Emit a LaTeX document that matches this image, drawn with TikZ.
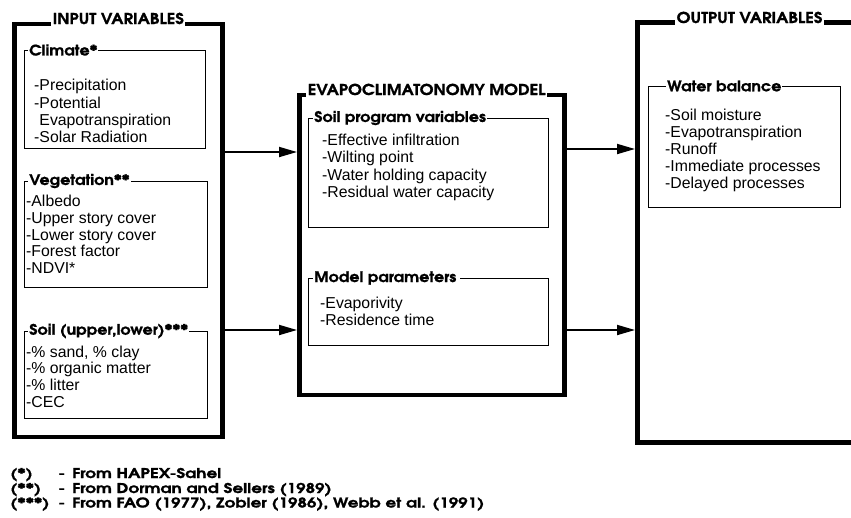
\documentclass[tikz,border=0pt]{standalone}
\usepackage{fontspec}
\setmainfont{Liberation Sans}
\newfontfamily\hd{texgyreadventor}[Extension=.otf, UprightFont=*-bold, FakeStretch=1.1, FakeBold=1]
\newfontfamily\hdn{texgyreadventor}[Extension=.otf, UprightFont=*-bold, FakeStretch=1.25, FakeBold=1]
\usetikzlibrary{arrows.meta}
\begin{document}
\begin{tikzpicture}[x=1pt,y=-1pt,
 frame/.style={draw, line width=4.5pt, inner sep=0pt, anchor=north west},
 sub/.style={draw, line width=1.1pt, inner sep=0pt, anchor=north west},
 ftitle/.style={font=\hd\fontsize{15}{17}\selectfont, fill=white, inner xsep=1.5pt, inner ysep=0pt, text depth=3pt, anchor=base west},
 stitle/.style={font=\hd\fontsize{14.5}{16}\selectfont, fill=white, inner xsep=1pt, inner ysep=0pt, anchor=west},
 item/.style={font=\fontsize{15.8}{17}\selectfont, anchor=base west, inner sep=0pt},
 arr/.style={line width=1.8pt, -{Triangle[length=18pt,width=10pt]}},
 note/.style={font=\hdn\fontsize{13.5}{15}\selectfont, anchor=base west, inner sep=0pt}]
\clip (0,0) rectangle (851,517);
\fill[white] (0,0) rectangle (851,517);
% outer frames
\node[frame, minimum width=208pt, minimum height=413pt] (in) at (12,21.5) {};
\node[frame, minimum width=265pt, minimum height=300pt] (mid) at (297,92.5) {};
\node[frame, minimum width=240pt, minimum height=420pt] (out) at (635,20) {};
\node[ftitle] (int) at (51,24) {INPUT VARIABLES};
\node[ftitle] (midt) at (306,95) {EVAPOCLIMATONOMY MODEL};
\node[ftitle] (outt) at (675,23) {OUTPUT VARIABLES};
% input sub boxes
\node[sub, minimum width=181pt, minimum height=98pt] (cl) at (24,50) {};
\node[stitle] (clt) at (28,50) {Climate*};
\node[item] (c1) at (34,90) {-Precipitation};
\node[item] (c2) at (34,108) {-Potential};
\node[item] (c3) at (34,125) {\phantom{-}Evapotranspiration};
\node[item] (c4) at (34,142) {-Solar Radiation};
\node[sub, minimum width=183pt, minimum height=106pt] (veg) at (24,181) {};
\node[stitle] (vegt) at (28,181) {Vegetation**};
\node[item] (v1) at (26,206) {-Albedo};
\node[item] (v2) at (26,223) {-Upper story cover};
\node[item] (v3) at (26,240) {-Lower story cover};
\node[item] (v4) at (26,256) {-Forest factor};
\node[item] (v5) at (26,273) {-NDVI*};
\node[sub, minimum width=183pt, minimum height=87pt] (soil) at (24,331) {};
\node[stitle] (soilt) at (28,331) {Soil (upper,lower)***};
\node[item] (s1) at (26,357) {-\% sand, \% clay};
\node[item] (s2) at (26,373) {-\% organic matter};
\node[item] (s3) at (26,390) {-\% litter};
\node[item] (s4) at (26,407) {-CEC};
% middle sub boxes
\node[sub, minimum width=240pt, minimum height=109pt] (spv) at (308,118) {};
\node[stitle] (spvt) at (313,118) {Soil program variables};
\node[item] (p1) at (322,145) {-Effective infiltration};
\node[item] (p2) at (322,162) {-Wilting point};
\node[item] (p3) at (322,180) {-Water holding capacity};
\node[item] (p4) at (322,197) {-Residual water capacity};
\node[sub, minimum width=240pt, minimum height=67pt] (mp) at (308,278) {};
\node[stitle] (mpt) at (313,278) {Model parameters\,};
\node[item] (m1) at (320,308) {-Evaporivity};
\node[item] (m2) at (320,325) {-Residence time};
% output sub box
\node[sub, minimum width=192pt, minimum height=121pt] (wb) at (648,86) {};
\node[stitle] (wbt) at (666,86) {Water balance};
\node[item] (w1) at (665,120) {-Soil moisture};
\node[item] (w2) at (665,137) {-Evapotranspiration};
\node[item] (w3) at (665,154) {-Runoff};
\node[item] (w4) at (665,171) {-Immediate processes};
\node[item] (w5) at (665,188) {-Delayed processes};
% arrows
\coordinate (a1) at (0,152);
\coordinate (a2) at (0,330);
\coordinate (b1) at (0,149);
\coordinate (b2) at (0,330);
\draw[arr] (in.east |- a1) -- (mid.west |- a1);
\draw[arr] (in.east |- a2) -- (mid.west |- a2);
\draw[arr] (mid.east |- b1) -- (out.west |- b1);
\draw[arr] (mid.east |- b2) -- (out.west |- b2);
% footnotes
\node[note] (f1a) at (10,478) {(*)};
\node[note] (f1b) at (58,478) {-};
\node[note] (f1c) at (72,478) {From HAPEX-Sahel};
\node[note] (f2a) at (10,493) {(**)};
\node[note] (f2b) at (58,493) {-};
\node[note] (f2c) at (72,493) {From Dorman and Sellers (1989)};
\node[note] (f3a) at (10,507.5) {(***)};
\node[note] (f3b) at (58,507.5) {-};
\node[note] (f3c) at (72,507.5) {From FAO (1977), Zobler (1986), Webb et al. (1991)};
\end{tikzpicture}
\end{document}
